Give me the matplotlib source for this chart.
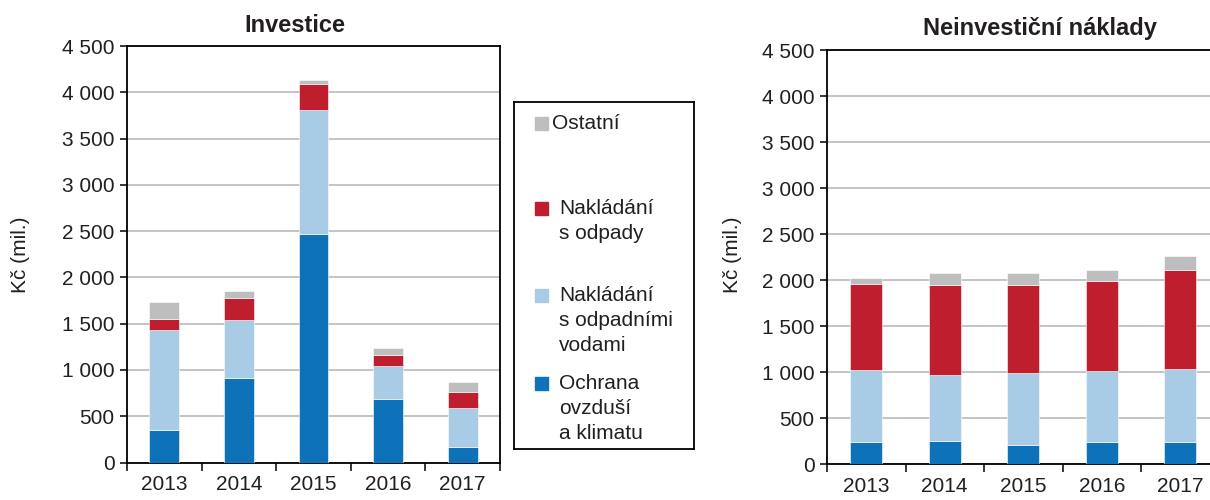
"""Investice a neinvestiční náklady - skládané sloupce"""

import matplotlib
matplotlib.use("Agg")
import matplotlib.pyplot as plt
from matplotlib.patches import Rectangle
from matplotlib.ticker import FuncFormatter, FixedLocator

plt.rcParams['font.family'] = ['Liberation Sans', 'DejaVu Sans']

years = ['2013', '2014', '2015', '2016', '2017']
series = ['Ochrana\novzduší\na klimatu', 'Nakládání\ns odpadními\nvodami',
          'Nakládání\ns odpady', 'Ostatní']
colors = ['#0E72B9', '#A9CCE6', '#BE1E2D', '#BEBEBE']

# investice (mil. Kč)
inv_air = [350, 910, 2470, 690, 170]
inv_water = [1085, 630, 1340, 350, 415]
inv_waste = [120, 240, 280, 125, 175]
inv_other = [180, 70, 45, 70, 110]

# neinvestiční náklady (mil. Kč)
non_air = [240, 255, 215, 240, 240]
non_water = [780, 720, 780, 775, 800]
non_waste = [935, 975, 955, 980, 1065]
non_other = [65, 130, 130, 110, 155]

W, H = 1210, 500
FS = 15
TXT = '#231F20'


def space_fmt(v, pos):
    return f"{int(v):,}".replace(",", " ")


def stacked(ax, data, width):
    x = range(len(years))
    bottom = [0] * len(years)
    for vals, c in zip(data, colors):
        ax.bar(x, vals, width, bottom=bottom, color=c, edgecolor='white',
               linewidth=0.4, zorder=3)
        bottom = [b + v for b, v in zip(bottom, vals)]

    ax.set_xlim(-0.5, len(years) - 0.5)
    ax.set_ylim(0, 4500)
    ax.set_yticks(range(0, 4501, 500))
    ax.yaxis.set_major_formatter(FuncFormatter(space_fmt))
    ax.set_xticks(list(x))
    ax.set_xticklabels(years)
    ax.xaxis.set_minor_locator(FixedLocator([i - 0.5 for i in range(len(years) + 1)]))
    ax.tick_params(axis='x', which='major', length=0, pad=9, labelsize=FS, colors=TXT)
    ax.tick_params(axis='x', which='minor', length=6, width=1.1, direction='out')
    ax.tick_params(axis='y', length=5, width=1.1, direction='out', pad=4,
                   labelsize=FS, colors=TXT)
    ax.tick_params(axis='both', color='black')
    ax.grid(axis='y', color='#BFBFBF', linewidth=1.3, zorder=0)
    for s in ax.spines.values():
        s.set_linewidth(1.3)


fig = plt.figure(figsize=(W / 100, H / 100), dpi=100)

ax1 = fig.add_axes([127 / W, (H - 462.5) / H, 373 / W, (462.5 - 46) / H])
stacked(ax1, [inv_air, inv_water, inv_waste, inv_other], 0.4)

ax2 = fig.add_axes([827 / W, (H - 464.3) / H, 392.5 / W, (464.3 - 50) / H])
stacked(ax2, [non_air, non_water, non_waste, non_other], 0.41)

fig.text(295 / W, 1 - 26 / H, 'Investice', ha='center', va='center',
         fontsize=17, fontweight='bold', color=TXT)
fig.text(1040 / W, 1 - 28 / H, 'Neinvestiční náklady', ha='center', va='center',
         fontsize=17, fontweight='bold', color=TXT)
fig.text(20 / W, 1 - 255 / H, 'Kč (mil.)', rotation=90, ha='center', va='center',
         fontsize=FS, color=TXT)
fig.text(733 / W, 1 - 255 / H, 'Kč (mil.)', rotation=90, ha='center', va='center',
         fontsize=FS, color=TXT)

# legenda jako samostatny ramecek
lg = fig.add_axes([514 / W, (H - 449) / H, 180 / W, 347 / H])
lg.set_xlim(514, 694)
lg.set_ylim(449, 102)
lg.set_xticks([])
lg.set_yticks([])
for s in lg.spines.values():
    s.set_linewidth(1.3)

legend_rows = [123, 208, 295, 383]
legend_text_x = [552, 559, 559, 559]
order = [3, 2, 1, 0]
for row, tx, i in zip(legend_rows, legend_text_x, order):
    lg.add_patch(Rectangle((535, row - 6.5), 13, 13, color=colors[i]))
    lg.text(tx, row - 9, series[i], ha='left', va='top', fontsize=FS,
            color=TXT, linespacing=1.4)

fig.savefig('out.png', dpi=100)
